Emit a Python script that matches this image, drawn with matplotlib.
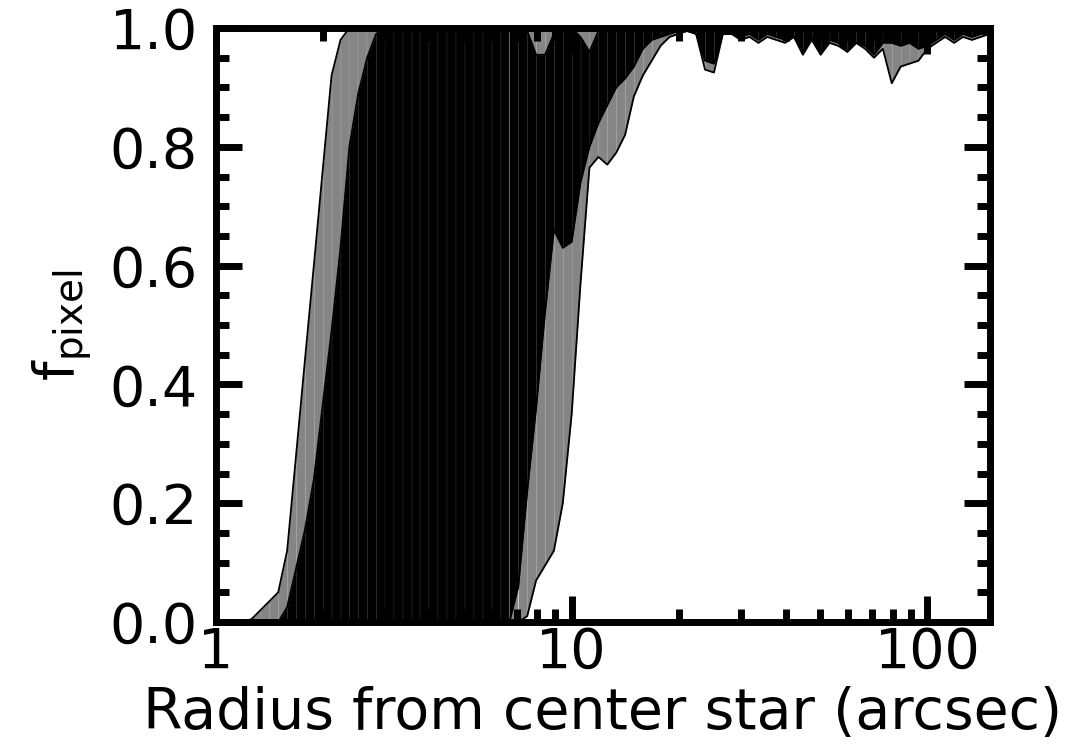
import matplotlib
matplotlib.use("Agg")
import matplotlib.pyplot as plt
import numpy as np
from matplotlib.ticker import FixedLocator, LogLocator, NullFormatter, MultipleLocator

# radius grid (arcsec)
radius = [1.000, 1.059, 1.122, 1.189, 1.259, 1.334, 1.413, 1.496, 1.585, 1.679,
          1.778, 1.884, 1.995, 2.113, 2.239, 2.371, 2.512, 2.661, 2.818, 2.985,
          3.162, 3.350, 3.548, 3.758, 3.981, 4.217, 4.467, 4.732, 5.012, 5.309,
          5.623, 5.957, 6.310, 6.683, 7.079, 7.499, 7.943, 8.414, 8.913, 9.441,
          10.00, 10.59, 11.22, 11.89, 12.59, 13.34, 14.13, 14.96, 15.85, 16.79,
          17.78, 18.84, 19.95, 21.13, 22.39, 23.71, 25.12, 26.61, 28.18, 29.85,
          31.62, 33.50, 35.48, 37.58, 39.81, 42.17, 44.67, 47.32, 50.12, 53.09,
          56.23, 59.57, 63.10, 66.83, 70.79, 74.99, 79.43, 84.14, 89.13, 94.41,
          100.0, 105.9, 112.2, 118.9, 125.9, 133.4, 141.3, 149.6]

# outer (gray) envelope
gray_lo = [0, 0, 0, 0, 0, 0, 0, 0, 0, 0,
           0, 0, 0, 0, 0, 0, 0, 0, 0, 0,
           0, 0, 0, 0, 0, 0, 0, 0, 0, 0,
           0, 0, 0, 0, 0, 0.01, 0.07, 0.095, 0.12, 0.20,
           0.35, 0.57, 0.765, 0.783, 0.77, 0.79, 0.82, 0.885, 0.92, 0.945,
           0.97, 0.985, 0.99, 0.995, 0.99, 0.93, 0.925, 0.99, 0.99, 0.98,
           0.985, 0.975, 0.985, 0.98, 0.975, 0.985, 0.955, 0.98, 0.955, 0.975,
           0.97, 0.96, 0.975, 0.965, 0.95, 0.965, 0.907, 0.935, 0.94, 0.945,
           0.965, 0.975, 0.985, 0.975, 0.985, 0.98, 0.985, 0.99]
gray_hi = [0, 0, 0, 0, 0.005, 0.02, 0.035, 0.05, 0.12, 0.28,
           0.44, 0.60, 0.76, 0.92, 0.98, 1.0, 1.0, 1.0, 1.0, 1.0,
           1.0, 1.0, 1.0, 1.0, 1.0, 1.0, 1.0, 1.0, 1.0, 1.0,
           1.0, 1.0, 1.0, 1.0, 1.0, 1.0, 1.0, 1.0, 1.0, 1.0,
           1.0, 1.0, 1.0, 1.0, 1.0, 1.0, 1.0, 1.0, 1.0, 1.0,
           1.0, 1.0, 1.0, 1.0, 1.0, 1.0, 1.0, 1.0, 0.99, 1.0,
           1.0, 1.0, 1.0, 1.0, 1.0, 1.0, 1.0, 1.0, 1.0, 1.0,
           1.0, 1.0, 1.0, 1.0, 1.0, 1.0, 1.0, 1.0, 1.0, 1.0,
           1.0, 1.0, 1.0, 0.99, 1.0, 1.0, 1.0, 1.0]

# inner (black) envelope
black_lo = [0, 0, 0, 0, 0, 0, 0, 0, 0, 0,
            0, 0, 0, 0, 0, 0, 0, 0, 0, 0,
            0, 0, 0, 0, 0, 0, 0, 0, 0, 0,
            0, 0, 0, 0, 0.06, 0.22, 0.36, 0.52, 0.66, 0.63,
            0.64, 0.74, 0.80, 0.84, 0.87, 0.90, 0.915, 0.935, 0.965, 0.98,
            0.985, 0.99, 0.995, 0.995, 0.99, 0.945, 0.94, 0.99, 0.99, 0.985,
            0.99, 0.98, 0.99, 0.985, 0.98, 0.985, 0.96, 0.985, 0.96, 0.98,
            0.975, 0.96, 0.975, 0.97, 0.955, 0.975, 0.975, 0.97, 0.975, 0.965,
            0.97, 0.98, 0.99, 0.98, 0.99, 0.985, 0.99, 0.99]
black_hi = [0, 0, 0, 0, 0, 0, 0, 0, 0.025, 0.09,
            0.155, 0.24, 0.365, 0.49, 0.63, 0.80, 0.89, 0.95, 0.99, 1.0,
            1.0, 1.0, 1.0, 1.0, 1.0, 1.0, 1.0, 1.0, 1.0, 1.0,
            1.0, 1.0, 1.0, 1.0, 1.0, 0.995, 0.955, 0.955, 0.99, 1.0,
            1.0, 0.985, 0.96, 0.995, 1.0, 1.0, 1.0, 1.0, 1.0, 1.0,
            1.0, 1.0, 1.0, 1.0, 1.0, 1.0, 1.0, 1.0, 1.0, 1.0,
            1.0, 1.0, 1.0, 1.0, 1.0, 1.0, 1.0, 1.0, 1.0, 1.0,
            1.0, 1.0, 1.0, 1.0, 1.0, 1.0, 1.0, 1.0, 1.0, 1.0,
            1.0, 1.0, 1.0, 1.0, 1.0, 1.0, 1.0, 1.0]

x = np.array(radius)
# (lower, upper, fill colour, seam colour)
layers = [(np.array(gray_lo), np.array(gray_hi), "#858585", "#a8a8a8"),
          (np.array(black_lo), np.array(black_hi), "black", "#3a3a3a")]

fig = plt.figure(figsize=(10.73, 7.47), dpi=100)
ax = fig.add_axes([0.2013, 0.1673, 0.7213, 0.7952])

for lo, hi, col, seam in layers:
    # strip by strip, so the joins show up as thin light lines like the original
    for i in range(len(x) - 1):
        if hi[i] <= lo[i] and hi[i + 1] <= lo[i + 1]:
            continue
        ax.fill_between(x[i:i + 2], lo[i:i + 2], hi[i:i + 2],
                        facecolor=col, edgecolor=seam, lw=0.25)
    ax.plot(x, lo, color="black", lw=1.3)
    ax.plot(x, hi, color="black", lw=1.3)

ax.set_xscale("log")
ax.set_xlim(1, 150)
ax.set_ylim(0, 1)

ax.xaxis.set_major_locator(FixedLocator([1, 10, 100]))
ax.xaxis.set_major_formatter(matplotlib.ticker.FixedFormatter(["1", "10", "100"]))
ax.xaxis.set_minor_locator(LogLocator(base=10, subs=np.arange(2, 10)))
ax.xaxis.set_minor_formatter(NullFormatter())
ax.yaxis.set_major_locator(MultipleLocator(0.2))
ax.yaxis.set_minor_locator(MultipleLocator(0.05))

for s in ax.spines.values():
    s.set_linewidth(5)
ax.tick_params(which="both", direction="in", top=True, right=True, width=5)
ax.tick_params(which="major", length=19, labelsize=40)
ax.tick_params(which="minor", length=9.5)
ax.tick_params(axis="y", which="major", pad=13)
ax.tick_params(axis="x", which="major", pad=3)

ax.set_xlabel("Radius from center star (arcsec)", fontsize=41, labelpad=4)
ax.set_ylabel(r"f$_{\rm pixel}$", fontsize=40, labelpad=12)

fig.savefig("out.png", dpi=100)
